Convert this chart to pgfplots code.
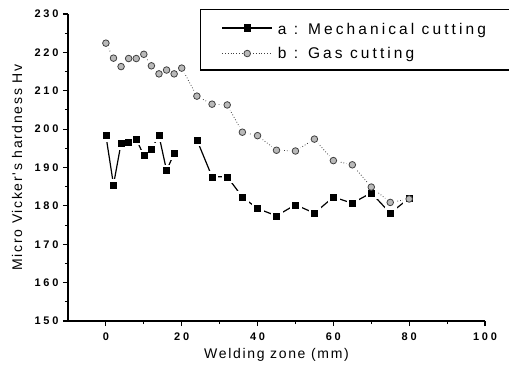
\documentclass[border=0pt]{standalone}
\usepackage{pgfplots}
\pgfplotsset{compat=1.18}
\usepackage{fontspec}
\setmainfont{Liberation Sans}
\newfontfamily\tickfont[LetterSpace=25]{Liberation Sans}
\newfontfamily\labfont[LetterSpace=12]{Liberation Sans}
\newfontfamily\legfont[LetterSpace=20]{Liberation Sans}
\begin{document}
\begin{tikzpicture}
\useasboundingbox (-68pt,-49pt) rectangle (441pt,321pt);
\begin{axis}[
  at={(0pt,0pt)}, anchor=south west,
  scale only axis, width=417pt, height=307pt,
  xmin=-10, xmax=100, ymin=150, ymax=230,
  axis x line*=bottom, axis y line*=left,
  axis line style={line width=1.3pt},
  xtick={0,20,40,60,80,100}, ytick={150,160,...,230},
  minor x tick num=1, minor y tick num=1,
  tick align=outside, xtick pos=bottom, ytick pos=left,
  major tick length=5pt, minor tick length=3pt,
  tick style={line width=1.1pt, black},
  /pgf/number format/assume math mode=true,
  ticklabel style={font=\tickfont\bfseries\fontsize{11}{13}\selectfont},
  xticklabel style={yshift=-3pt},
  yticklabel style={xshift=-1pt},
  xlabel={Welding zone (mm)},
  ylabel={Micro Vicker's hardness Hv},
  label style={font=\labfont\fontsize{14}{16}\selectfont},
  xlabel style={at={(axis description cs:0.5,-0.111)}, anchor=center},
  ylabel style={at={(axis description cs:-0.122,0.5)}, anchor=center},
  unbounded coords=jump,
  clip=false,
  legend style={at={(axis description cs:0.3165,1.0163)}, anchor=north west,
    draw=black, line width=1.3pt, font=\legfont\fontsize{15.5}{18}\selectfont,
    inner xsep=4pt, inner ysep=8pt, row sep=7pt,
    /tikz/every odd column/.append style={column sep=3pt}},
  legend cell align=left,
  legend image code/.code={\path (3pt,0pt); \draw[mark repeat=2,mark phase=2,#1] plot coordinates {(20pt,0pt) (45pt,0pt) (70pt,0pt)};},
]
\pgfplotstableread{
x y
0 198.3
2 185.5
4 196.3
6 196.7
8 197.4
10 193.1
12 194.8
14 198.3
16 189.2
18 193.7
21 nan
24 197.2
28 187.6
32 187.6
36 182.3
40 179.3
45 177.4
50 180.3
55 178.1
60 182.3
65 180.7
70 183.4
75 178.1
80 182.0
}\mech
\pgfplotstableread{
x y
0 222.4
2 218.5
4 216.3
6 218.4
8 218.4
10 219.5
12 216.5
14 214.4
16 215.4
18 214.4
20 215.9
24 208.6
28 206.5
32 206.3
36 199.2
40 198.3
45 194.5
50 194.3
55 197.4
60 191.8
65 190.7
70 184.9
75 180.9
80 181.8
}\gas
% lines
\addplot[forget plot, black, line width=1.2pt, no marks] table {\mech};
\addplot[forget plot, black!75, line width=0.8pt, dotted, no marks] table {\gas};
% white halos
\addplot[forget plot, only marks, mark=square*, mark size=5.5pt, white] table {\mech};
\addplot[forget plot, only marks, mark=*, mark size=6pt, white] table {\gas};
% markers
\addplot[forget plot, only marks, mark=square*, mark size=3pt, black] table {\mech};
\addplot[forget plot, only marks, mark=*, mark size=3.3pt, mark options={fill=gray!55, draw=black!75, line width=0.8pt}] table {\gas};
% legend
\addlegendimage{black, line width=1.2pt, mark=square*, mark size=3pt}
\addlegendentry{\rule{0pt}{15pt}a : Mechanical cutting\hspace*{40pt}}
\addlegendimage{black!75, line width=0.8pt, dotted, mark=*, mark size=3.3pt, mark options={solid, fill=gray!55, draw=black!75}}
\addlegendentry{b : Gas cutting}
\end{axis}
\end{tikzpicture}
\end{document}
